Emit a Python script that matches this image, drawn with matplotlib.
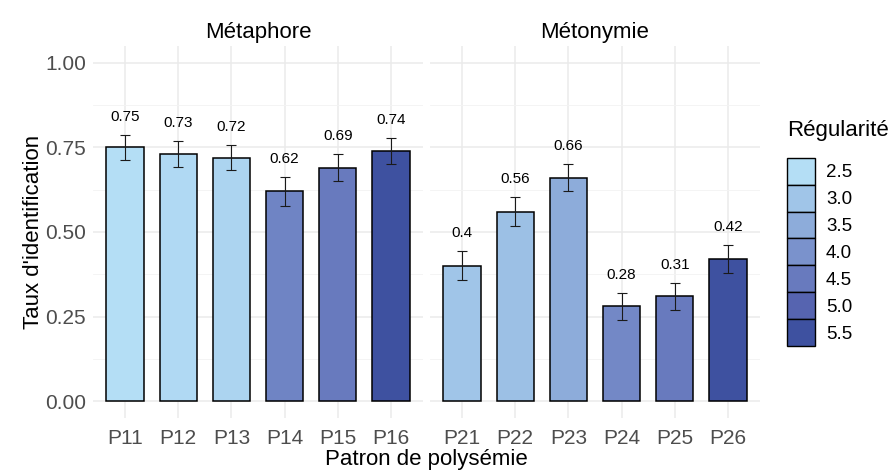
import numpy as np
import matplotlib.pyplot as plt
from matplotlib.colors import LinearSegmentedColormap, Normalize
from matplotlib.patches import Patch

plt.rcParams['font.family'] = ['Liberation Sans', 'DejaVu Sans']

# identification rate per polysemy pattern, split by facet
meta_labels = ['P11', 'P12', 'P13', 'P14', 'P15', 'P16']
meta_rate = [0.75, 0.73, 0.72, 0.62, 0.69, 0.74]
meta_err = [0.037, 0.038, 0.038, 0.042, 0.040, 0.038]
meta_reg = [2.5, 2.6, 2.7, 4.3, 4.5, 5.5]

meto_labels = ['P21', 'P22', 'P23', 'P24', 'P25', 'P26']
meto_rate = [0.40, 0.56, 0.66, 0.28, 0.31, 0.42]
meto_err = [0.043, 0.043, 0.040, 0.040, 0.040, 0.042]
meto_reg = [3.0, 3.1, 3.5, 4.2, 4.5, 5.5]

legend_vals = [2.5, 3.0, 3.5, 4.0, 4.5, 5.0, 5.5]

cmap = LinearSegmentedColormap.from_list(
    'reg', ['#b4def5', '#a0c5e8', '#8dacda', '#7a92cc', '#687abe', '#5664b0', '#3e51a0'])
norm = Normalize(2.5, 5.5)

fig = plt.figure(figsize=(8.96, 4.73), dpi=100)
ax1 = fig.add_axes([0.1038, 0.1163, 0.3683, 0.7865])
ax2 = fig.add_axes([0.4799, 0.1163, 0.3683, 0.7865], sharey=ax1)

panels = [(ax1, 'Métaphore', meta_labels, meta_rate, meta_err, meta_reg),
          (ax2, 'Métonymie', meto_labels, meto_rate, meto_err, meto_reg)]

for ax, title, labels, rate, err, reg in panels:
    x = np.arange(len(labels))
    ax.bar(x, rate, width=0.7, color=cmap(norm(reg)), edgecolor='black',
           linewidth=1.1, zorder=3)
    ax.errorbar(x, rate, yerr=err, fmt='none', ecolor='#1a1a1a',
                elinewidth=0.8, capsize=3.6, capthick=0.8, zorder=4)
    for xi, r, e in zip(x, rate, err):
        ax.annotate(f'{r:g}', (xi, r + e), xytext=(0, 8),
                    textcoords='offset points', ha='center', va='bottom',
                    fontsize=11, color='black', zorder=5)
    ax.set_xlim(-0.6, len(labels) - 0.4)
    ax.set_ylim(-0.05, 1.05)
    ax.set_xticks(x)
    ax.set_xticklabels(labels)
    ax.set_yticks([0, 0.25, 0.5, 0.75, 1.0])
    ax.set_yticks([0.125, 0.375, 0.625, 0.875], minor=True)
    ax.grid(True, which='major', color='#ebebeb', linewidth=1.1, zorder=0)
    ax.grid(True, which='minor', axis='y', color='#f3f3f3', linewidth=0.6, zorder=0)
    ax.tick_params(which='both', length=0, labelsize=15, labelcolor='#4d4d4d')
    ax.tick_params(axis='x', pad=8)
    ax.tick_params(axis='y', pad=5)
    for s in ax.spines.values():
        s.set_visible(False)
    ax.set_title(title, fontsize=16, pad=6)

ax1.set_yticklabels(['0.00', '0.25', '0.50', '0.75', '1.00'])
ax2.tick_params(labelleft=False)
ax1.set_ylabel("Taux d'identification", fontsize=16, labelpad=1)
fig.text(0.4799 - 0.004, 0.006, 'Patron de polysémie', ha='center', va='bottom', fontsize=16)

handles = [Patch(facecolor=cmap(norm(v)), edgecolor='black', linewidth=1.0) for v in legend_vals]
leg = fig.legend(handles, [f'{v:.1f}' for v in legend_vals], title='Régularité',
                 loc='upper left', bbox_to_anchor=(0.868, 0.766), frameon=False,
                 fontsize=13.5, title_fontsize=16, handlelength=1.48, handleheight=1.83,
                 labelspacing=0.0, handletextpad=0.6, borderpad=0)
leg._legend_box.align = 'left'
leg._legend_box.sep = 12

fig.savefig('out.png', dpi=100, facecolor='white')
